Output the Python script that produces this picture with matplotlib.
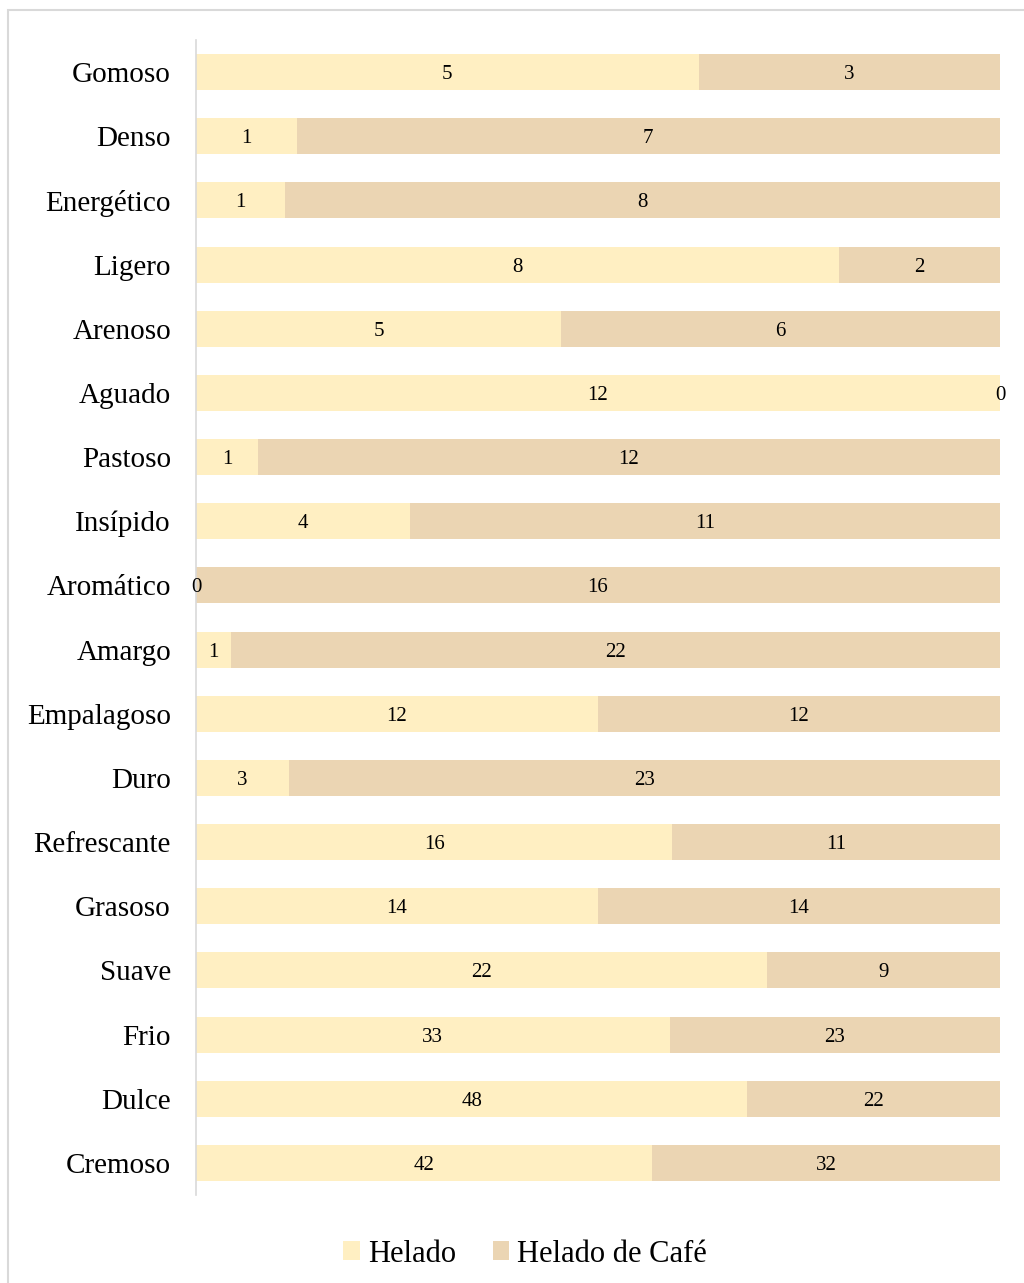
import matplotlib.pyplot as plt
from matplotlib.patches import Rectangle
import numpy as np

plt.rcParams['font.family'] = ['Liberation Serif', 'DejaVu Serif']

# categories top to bottom
categories = ['Gomoso', 'Denso', 'Energético', 'Ligero', 'Arenoso', 'Aguado', 'Pastoso',
              'Insípido', 'Aromático', 'Amargo', 'Empalagoso', 'Duro', 'Refrescante',
              'Grasoso', 'Suave', 'Frio', 'Dulce', 'Cremoso']
helado = [5, 1, 1, 8, 5, 12, 1, 4, 0, 1, 12, 3, 16, 14, 22, 33, 48, 42]
helado_cafe = [3, 7, 8, 2, 6, 0, 12, 11, 16, 22, 12, 23, 11, 14, 9, 23, 22, 32]
series_names = ['Helado', 'Helado de Café']
colors = ['#FFEFC2', '#EBD5B3']

h = np.array(helado, dtype=float)
c = np.array(helado_cafe, dtype=float)
tot = h + c
hp = h / tot
cp = c / tot

fig = plt.figure(figsize=(10.24, 12.83), dpi=100)
fig.patches.append(Rectangle((8 / 1024, -0.1), 1.2, 1 - 10 / 1283 + 0.1,
                             transform=fig.transFigure, fill=False,
                             edgecolor='#D9D9D9', linewidth=1.5))
ax = fig.add_axes([196 / 1024, 1 - 1195 / 1283, 804 / 1024, 1155 / 1283])

y = np.arange(len(categories))
b1 = ax.barh(y, hp, height=0.56, color=colors[0], label=series_names[0])
b2 = ax.barh(y, cp, left=hp, height=0.56, color=colors[1], label=series_names[1])

for i in range(len(categories)):
    ax.text(hp[i] / 2, y[i], str(helado[i]), ha='center', va='center_baseline', fontsize=15)
    ax.text(hp[i] + cp[i] / 2, y[i], str(helado_cafe[i]), ha='center', va='center_baseline', fontsize=15)

ax.set_xlim(0, 1)
ax.set_ylim(len(categories) - 0.5, -0.5)
ax.set_yticks(y)
ax.set_yticklabels(categories, fontsize=21)
ax.tick_params(axis='y', length=0, pad=18)
ax.set_xticks([])
for s in ['top', 'right', 'bottom']:
    ax.spines[s].set_visible(False)
ax.spines['left'].set_color('#D9D9D9')
ax.spines['left'].set_linewidth(1.2)

fig.legend(handles=[b1, b2], loc='center', bbox_to_anchor=(525 / 1024, 1 - 1254 / 1283),
           ncol=2, frameon=False, fontsize=22, handlelength=0.55, handleheight=0.55,
           handletextpad=0.25, columnspacing=1.2)

fig.savefig('out.png', dpi=100)
